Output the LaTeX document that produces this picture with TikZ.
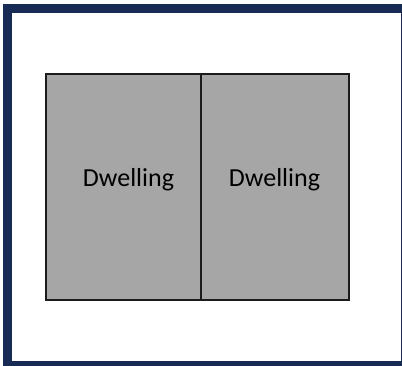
\documentclass[tikz,border=0pt]{standalone}
\usepackage{fontspec}
\setmainfont{Carlito}
\definecolor{navy}{RGB}{23,43,84}
\definecolor{fillgray}{RGB}{166,166,166}
\definecolor{edgegray}{RGB}{28,28,28}
\begin{document}
\begin{tikzpicture}[x=1pt,y=-1pt,
  dwelling/.style={draw=edgegray,fill=fillgray,line width=2pt},
  label/.style={font=\fontsize{26}{30}\selectfont,text=black,anchor=base,inner sep=0pt}]
\useasboundingbox (0,0) rectangle (402,365);
\begin{scope}
\clip (0,0) rectangle (402,365);
\draw[navy,line width=9pt] (7.5,8) rectangle (405,365);
\end{scope}
\draw[dwelling] (46,74) rectangle (201,300);
\draw[dwelling] (201,74) rectangle (349,300);
\node[label] (d1) at (128.5,186.7) {Dwelling};
\node[label] (d2) at (274.5,186.7) {Dwelling};
\end{tikzpicture}
\end{document}
